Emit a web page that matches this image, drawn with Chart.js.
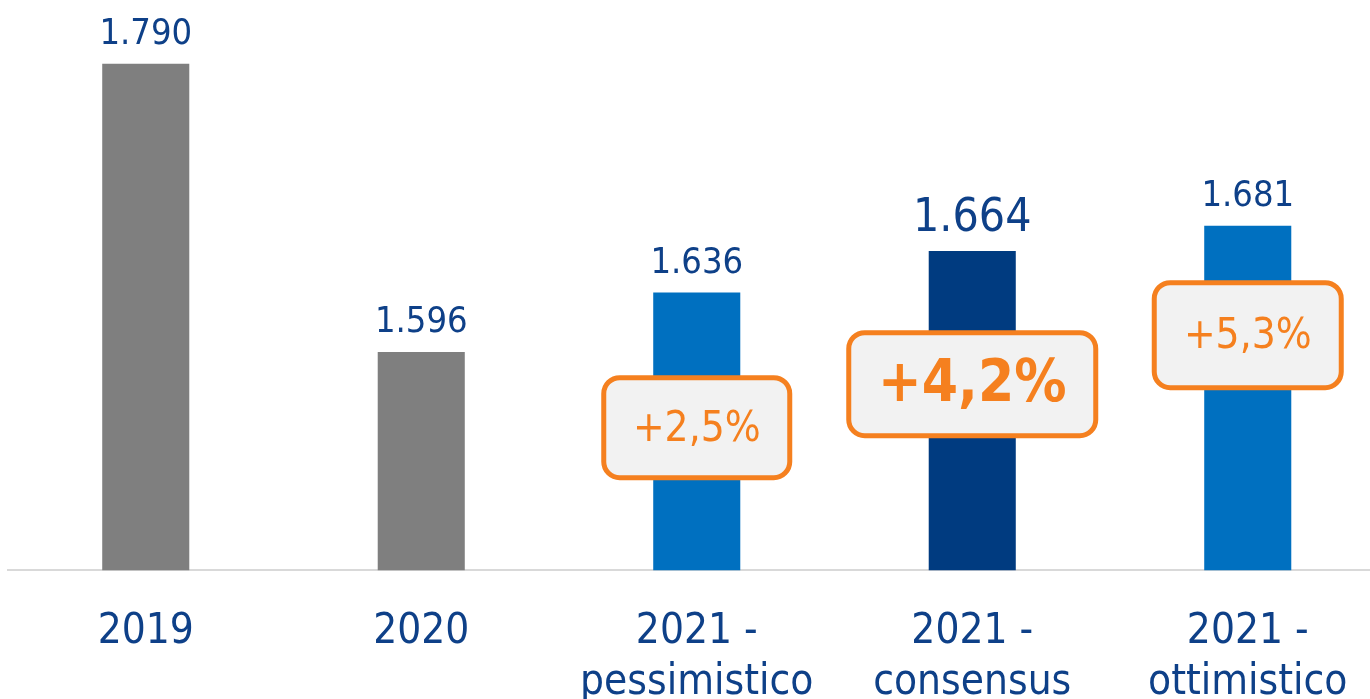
<!DOCTYPE html>
<html>
<head>
<meta charset="utf-8">
<script src="https://cdn.jsdelivr.net/npm/chart.js@4.4.1/dist/chart.umd.min.js"></script>
<style>
    html, body { margin: 0; padding: 0; background: #fff; overflow: hidden; }
    #wrap { position: relative; width: 1390px; height: 745px; }
</style>
</head>
<body>
<div id="wrap"><canvas id="myChart"></canvas></div>
<script>
// values
categories = [['2019'], ['2020'], ['2021 -', 'pessimistico'], ['2021 -', 'consensus'], ['2021 -', 'ottimistico']];
sales_values = [1790, 1596, 1636, 1664, 1681];
growth_labels = ['', '', '+2,5%', '+4,2%', '+5,3%'];
bar_colors = ['#7F7F7F', '#7F7F7F', '#0070C0', '#003B80', '#0070C0'];

label_font = '"DejaVu Sans Condensed", Tahoma, "DejaVu Sans", sans-serif';
dark_blue = '#0E4088';
orange = '#F5801F';

function fmt_it(n) {
    s = String(n);
    return s.replace(/\B(?=(\d{3})+(?!\d))/g, '.');
}

// value labels on top of every bar
const value_labels = {
    id: 'value_labels',
    afterDatasetsDraw(chart) {
        const ctx = chart.ctx;
        const meta = chart.getDatasetMeta(0);
        ctx.save();
        ctx.fillStyle = dark_blue;
        ctx.textAlign = 'center';
        ctx.textBaseline = 'alphabetic';
        meta.data.forEach((bar, i) => {
            size = (i == 3) ? 46 : 36;
            ctx.font = size + 'px ' + label_font;
            ctx.fillText(fmt_it(sales_values[i]), bar.x, bar.y - 20);
        })
        ctx.restore();
    }
}

// orange growth boxes (centre given in axis units, size in px)
const growth_boxes = {
    id: 'growth_boxes',
    afterDraw(chart, args, opts) {
        const ctx = chart.ctx;
        const meta = chart.getDatasetMeta(0);
        const y_scale = chart.scales.y;
        ctx.save();
        growth_labels.forEach((txt, i) => {
            if (!txt) return;
            b = opts.boxes[i];
            cx = meta.data[i].x;
            cy = y_scale.getPixelForValue(b.at);
            x0 = cx - b.w / 2 + 2.5;
            y0 = cy - b.h / 2 + 2.5;
            ctx.beginPath();
            ctx.roundRect(x0, y0, b.w - 5, b.h - 5, 16);
            ctx.fillStyle = '#F2F2F2';
            ctx.fill();
            ctx.lineWidth = 5;
            ctx.strokeStyle = orange;
            ctx.stroke();
            ctx.fillStyle = orange;
            ctx.textAlign = 'center';
            ctx.textBaseline = 'middle';
            ctx.font = (b.bold ? 'bold ' : '') + b.size + 'px ' + label_font;
            ctx.fillText(txt, cx, cy + 2);
        })
        ctx.restore();
    }
}

function write_chart() {
    const ctx = document.getElementById('myChart');
    const data = {
        labels: categories,
        datasets: [{
            data: sales_values,
            backgroundColor: bar_colors,
            barPercentage: 0.316,
            categoryPercentage: 1
        }]
    };

    const config = {
        type: 'bar',
        data: data,
        plugins: [value_labels, growth_boxes],
        options: {
            responsive: true,
            maintainAspectRatio: false,
            animation: false,
            layout: {
                padding: { top: 19.3, left: 8, right: 4.5, bottom: 0 }
            },
            scales: {
                x: {
                    grid: { color: 'rgba(0,0,0,0)', drawTicks: false },
                    border: { display: true, color: '#D9D9D9', width: 2 },
                    ticks: {
                        color: dark_blue,
                        padding: 37,
                        font: { family: label_font, size: 42, lineHeight: 1.2 }
                    }
                },
                y: {
                    display: false,
                    min: 1449,
                    max: 1820
                }
            },
            plugins: {
                legend: { display: false },
                tooltip: { enabled: false },
                growth_boxes: {
                    boxes: [
                        null, null,
                        { at: 1545, w: 191, h: 105, size: 42, bold: false },
                        { at: 1574.3, w: 252, h: 108, size: 58, bold: true },
                        { at: 1607.3, w: 192, h: 110, size: 42, bold: false }
                    ]
                }
            }
        }
    };
    chart = new Chart(ctx, config);
}

write_chart()
</script>
</body>
</html>
